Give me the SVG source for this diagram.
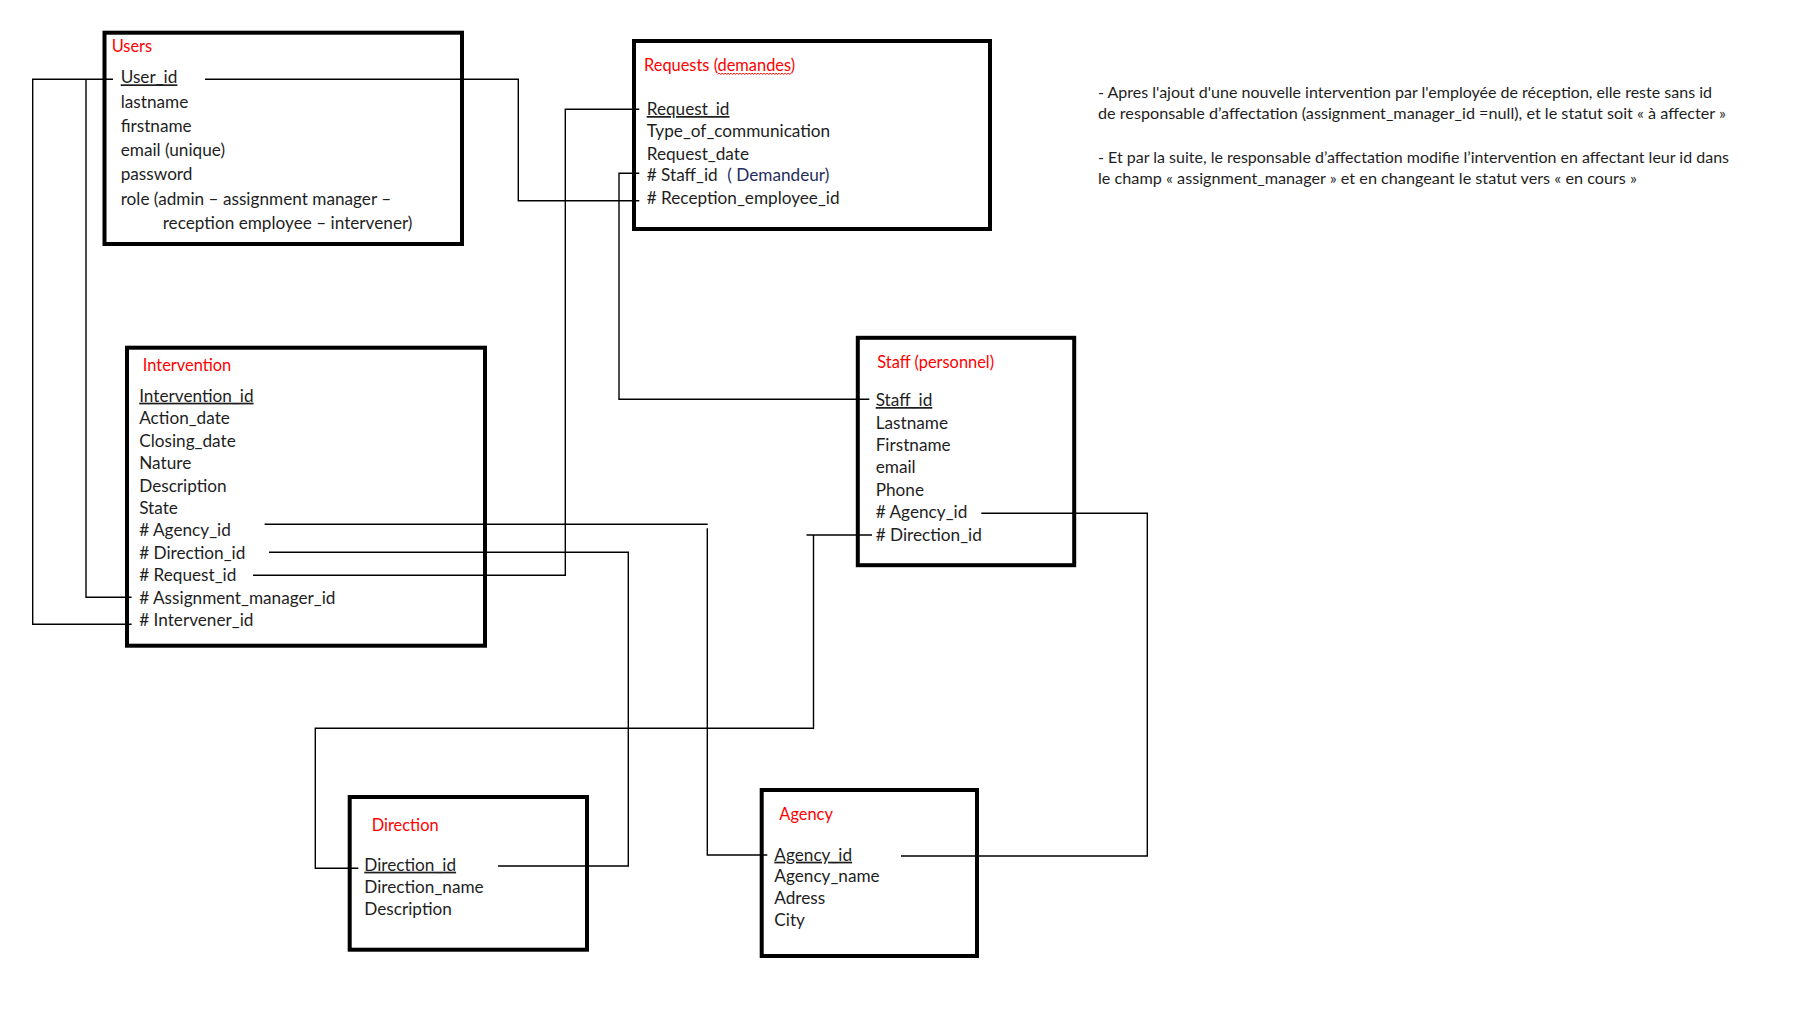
<svg xmlns="http://www.w3.org/2000/svg" width="1814" height="1023" viewBox="0 0 1814 1023">
  <style>
    .box { fill: none; stroke: #000; stroke-width: 4; }
    .title { font-family: Lato, "Liberation Sans", sans-serif; font-size: 16.4px; fill: #ff0000; }
    .attr { font-family: Lato, "Liberation Sans", sans-serif; font-size: 17.2px; fill: #1e1e1e; }
    .key { text-decoration: underline; }
    .note { font-family: Lato, "Liberation Sans", sans-serif; font-size: 15.4px; fill: #1e1e1e; }
    .link { fill: none; stroke: #000; stroke-width: 1.4; }
  </style>

  <rect width="1814" height="1023" fill="#fff"/>

  <!-- Users table -->
  <g id="users">
    <rect class="box" x="104.5" y="32.7" width="357.5" height="211.3"/>
    <text class="title" x="111.7" y="51.7">Users</text>
    <text class="attr key" x="120.7" y="83.3">User_id</text>
    <text class="attr" x="120.7" y="107.5">lastname</text>
    <text class="attr" x="120.7" y="131.8">firstname</text>
    <text class="attr" x="120.7" y="156.1">email (unique)</text>
    <text class="attr" x="120.7" y="180.4">password</text>
    <text class="attr" x="120.7" y="204.6">role (admin – assignment manager –</text>
    <text class="attr" x="162.7" y="228.6">reception employee – intervener)</text>
  </g>

  <!-- Requests table -->
  <g id="requests">
    <rect class="box" x="634" y="41" width="356" height="188"/>
    <text class="title" x="644" y="70.7">Requests (demandes)</text>
    <!-- spell-check squiggle under "demandes" -->
    <path d="M717.7,74.5 l1.5,-1.5 l1.5,1.5 l1.5,-1.5 l1.5,1.5 l1.5,-1.5 l1.5,1.5 l1.5,-1.5 l1.5,1.5 l1.5,-1.5 l1.5,1.5 l1.5,-1.5 l1.5,1.5 l1.5,-1.5 l1.5,1.5 l1.5,-1.5 l1.5,1.5 l1.5,-1.5 l1.5,1.5 l1.5,-1.5 l1.5,1.5 l1.5,-1.5 l1.5,1.5 l1.5,-1.5 l1.5,1.5 l1.5,-1.5 l1.5,1.5 l1.5,-1.5 l1.5,1.5 l1.5,-1.5 l1.5,1.5 l1.5,-1.5 l1.5,1.5 l1.5,-1.5 l1.5,1.5 l1.5,-1.5 l1.5,1.5 l1.5,-1.5 l1.5,1.5 l1.5,-1.5 l1.5,1.5 l1.5,-1.5 l1.5,1.5 l1.5,-1.5 l1.5,1.5 l1.5,-1.5 l1.5,1.5 l1.5,-1.5 l1.5,1.5 l1.5,-1.5" fill="none" stroke="#ff0000" stroke-width="1"/>
    <text class="attr key" x="646.7" y="115">Request_id</text>
    <text class="attr" x="646.7" y="137.3">Type_of_communication</text>
    <text class="attr" x="646.7" y="159.5">Request_date</text>
    <text class="attr" x="646.7" y="180.7"># Staff_id <tspan x="727.3" fill="#1f2d5c">( Demandeur)</tspan></text>
    <text class="attr" x="646.7" y="204">#&#160;Reception_employee_id</text>
  </g>

  <!-- Intervention table -->
  <g id="intervention">
    <rect class="box" x="127" y="347.7" width="358" height="298"/>
    <text class="title" x="142.8" y="370.7">Intervention</text>
    <text class="attr key" x="139.2" y="401.7">Intervention_id</text>
    <text class="attr" x="139.2" y="424.2">Action_date</text>
    <text class="attr" x="139.2" y="446.6">Closing_date</text>
    <text class="attr" x="139.2" y="469">Nature</text>
    <text class="attr" x="139.2" y="491.5">Description</text>
    <text class="attr" x="139.2" y="513.9">State</text>
    <text class="attr" x="139.2" y="536.4"># Agency_id</text>
    <text class="attr" x="139.2" y="558.8"># Direction_id</text>
    <text class="attr" x="139.2" y="581.2"># Request_id</text>
    <text class="attr" x="139.2" y="603.7"># Assignment_manager_id</text>
    <text class="attr" x="139.2" y="626.1"># Intervener_id</text>
  </g>

  <!-- Staff table -->
  <g id="staff">
    <rect class="box" x="857.8" y="337.8" width="216.4" height="227.4"/>
    <text class="title" x="877.3" y="368.3">Staff (personnel)</text>
    <text class="attr key" x="875.7" y="406">Staff_id</text>
    <text class="attr" x="875.7" y="428.5">Lastname</text>
    <text class="attr" x="875.7" y="450.9">Firstname</text>
    <text class="attr" x="875.7" y="473.3">email</text>
    <text class="attr" x="875.7" y="495.7">Phone</text>
    <text class="attr" x="875.7" y="518.1"># Agency_id</text>
    <text class="attr" x="875.7" y="540.5"># Direction_id</text>
  </g>

  <!-- Direction table -->
  <g id="direction">
    <rect class="box" x="349.7" y="797" width="237.3" height="152.7"/>
    <text class="title" x="371.7" y="830.7">Direction</text>
    <text class="attr key" x="364.3" y="870.7">Direction_id</text>
    <text class="attr" x="364.3" y="892.9">Direction_name</text>
    <text class="attr" x="364.3" y="915.1">Description</text>
  </g>

  <!-- Agency table -->
  <g id="agency">
    <rect class="box" x="761.7" y="790" width="215.3" height="166"/>
    <text class="title" x="779.3" y="820">Agency</text>
    <text class="attr key" x="774.3" y="860.7">Agency_id</text>
    <text class="attr" x="774.3" y="882">Agency_name</text>
    <text class="attr" x="774.3" y="903.5">Adress</text>
    <text class="attr" x="774.3" y="925.8">City</text>
  </g>

  <!-- Notes -->
  <g id="notes">
    <text class="note" x="1098" y="98.3" textLength="614" lengthAdjust="spacingAndGlyphs">- Apres l'ajout d'une nouvelle intervention par l'employée de réception, elle reste sans id</text>
    <text class="note" x="1098" y="119.3" textLength="628" lengthAdjust="spacingAndGlyphs">de responsable d’affectation (assignment_manager_id =null), et le statut soit « à affecter »</text>
    <text class="note" x="1098" y="163.3" textLength="631" lengthAdjust="spacingAndGlyphs">- Et par la suite, le responsable d’affectation modifie l’intervention en affectant leur id dans</text>
    <text class="note" x="1098" y="184" textLength="539" lengthAdjust="spacingAndGlyphs">le champ « assignment_manager » et en changeant le statut vers « en cours »</text>
  </g>

  <!-- Foreign key links -->
  <g id="connectors">
    <path class="link" d="M205,79.3 H518.3 V200.7 H639.3"/>
    <path class="link" d="M113,79.3 H32.7 V624.3 H131.6"/>
    <path class="link" d="M86,79.3 V597.3 H131.6"/>
    <path class="link" d="M639.3,109.3 H565.3 V575.3 H253"/>
    <path class="link" d="M639.3,173.3 H619 V399.3 H869.3"/>
    <path class="link" d="M264.6,524.3 H707.7"/>
    <path class="link" d="M707.3,528.3 V855 H767.3"/>
    <path class="link" d="M269,552.3 H628.3 V866 H498"/>
    <path class="link" d="M872,535 H806.5"/>
    <path class="link" d="M813.5,535 V728.3 H315.3 V868.3 H358.3"/>
    <path class="link" d="M981.3,513.3 H1147.3 V856 H901"/>
  </g>
</svg>
